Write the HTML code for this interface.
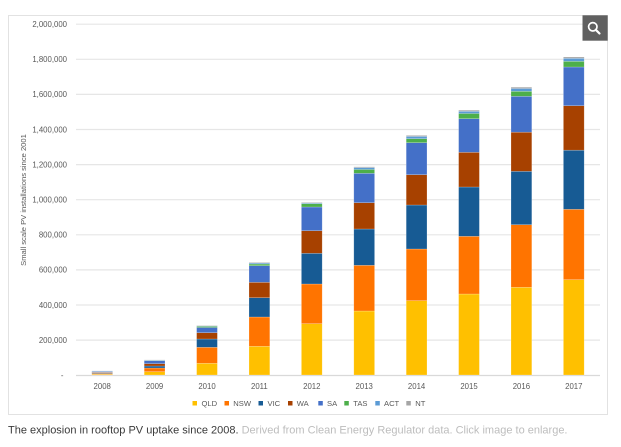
<!DOCTYPE html>
<html><head><meta charset="utf-8">
<style>
html,body{margin:0;padding:0;background:#fff;width:621px;height:447px;overflow:hidden}
svg{display:block}
</style></head>
<body>
<svg width="621" height="447" viewBox="0 0 621 447" xmlns="http://www.w3.org/2000/svg" font-family="'Liberation Sans', sans-serif">
<rect x="8.5" y="15.5" width="599" height="399" fill="#fff" stroke="#e2e2e2" stroke-width="1"/>
<g stroke="#e6e6e6" stroke-width="1.2">
<line x1="76" x2="600" y1="24.2" y2="24.2"/>
<line x1="76" x2="600" y1="59.3" y2="59.3"/>
<line x1="76" x2="600" y1="94.4" y2="94.4"/>
<line x1="76" x2="600" y1="129.5" y2="129.5"/>
<line x1="76" x2="600" y1="164.6" y2="164.6"/>
<line x1="76" x2="600" y1="199.7" y2="199.7"/>
<line x1="76" x2="600" y1="234.8" y2="234.8"/>
<line x1="76" x2="600" y1="269.9" y2="269.9"/>
<line x1="76" x2="600" y1="305" y2="305"/>
<line x1="76" x2="600" y1="340.1" y2="340.1"/>
</g>
<line x1="76" x2="600" y1="375.5" y2="375.5" stroke="#d9d9d9" stroke-width="1.2"/>
<g font-size="7.8" fill="#595959" text-anchor="end">
<text x="67" y="27">2,000,000</text>
<text x="67" y="62.1">1,800,000</text>
<text x="67" y="97.2">1,600,000</text>
<text x="67" y="132.3">1,400,000</text>
<text x="67" y="167.4">1,200,000</text>
<text x="67" y="202.5">1,000,000</text>
<text x="67" y="237.6">800,000</text>
<text x="67" y="272.7">600,000</text>
<text x="67" y="307.8">400,000</text>
<text x="67" y="342.9">200,000</text>
<text x="63.5" y="378">-</text>
</g>
<text transform="translate(26,200) rotate(-90)" font-size="7.6" fill="#595959" text-anchor="middle">Small scale PV installations since 2001</text>
<g id="bars" stroke="#ffffff" stroke-opacity="0.35" stroke-width="0.6"></g>
<g font-size="7.8" fill="#595959" text-anchor="middle">
<text x="102.2" y="389">2008</text>
<text x="154.6" y="389">2009</text>
<text x="207" y="389">2010</text>
<text x="259.4" y="389">2011</text>
<text x="311.8" y="389">2012</text>
<text x="364.2" y="389">2013</text>
<text x="416.6" y="389">2014</text>
<text x="469" y="389">2015</text>
<text x="521.4" y="389">2016</text>
<text x="573.8" y="389">2017</text>
</g>
<g font-size="7.6" fill="#595959">
<rect x="192.5" y="401" width="4.5" height="4.5" fill="#FFC000"/><text x="201.5" y="406">QLD</text>
<rect x="224.5" y="401" width="4.5" height="4.5" fill="#FF7400"/><text x="233.3" y="406">NSW</text>
<rect x="258.5" y="401" width="4.5" height="4.5" fill="#175B94"/><text x="267.5" y="406">VIC</text>
<rect x="288" y="401" width="4.5" height="4.5" fill="#A74100"/><text x="296.7" y="406">WA</text>
<rect x="318.3" y="401" width="4.5" height="4.5" fill="#4470C8"/><text x="327" y="406">SA</text>
<rect x="344.3" y="401" width="4.5" height="4.5" fill="#4DAF4A"/><text x="353.3" y="406">TAS</text>
<rect x="375.3" y="401" width="4.5" height="4.5" fill="#5B9BD5"/><text x="384" y="406">ACT</text>
<rect x="406.3" y="401" width="4.5" height="4.5" fill="#A5A5A5"/><text x="415.3" y="406">NT</text>
</g>
<text x="8" y="433.5" font-size="11" fill="#3a3a3a">The explosion in rooftop PV uptake since 2008. <tspan fill="#bdbdbd">Derived from Clean Energy Regulator data. Click image to enlarge.</tspan></text>
<rect x="582.5" y="15.3" width="25.2" height="25.4" fill="#606060"/>
<circle cx="592.8" cy="26.8" r="4.2" fill="none" stroke="#fff" stroke-width="1.7"/>
<line x1="595.8" y1="29.8" x2="599.5" y2="33.5" stroke="#fff" stroke-width="2.2" stroke-linecap="round"/>
<script>
var colors=["#FFC000","#FF7400","#175B94","#A74100","#4470C8","#4DAF4A","#5B9BD5","#A5A5A5"];
var tops=[
[374.3,373.5,372.8,372.2,371.4,371.2,371.0,370.9],
[371.7,368,366,363.7,360.6,360.3,360.1,359.9],
[363.3,347.3,339,332.7,327.5,326.3,325.9,325.5],
[346.3,317,297.7,282.3,265.7,264,263,262.4],
[323.7,284,253.3,230.7,207,203.7,202.9,202.3],
[311,265.3,229,202.7,173.3,169.5,167.6,166.8],
[300.7,249,205,174.7,142.7,138.7,136.4,135.4],
[294,236.3,187,152.3,118.7,113.5,111.3,110.2],
[287.3,224.7,171.3,132.2,96.3,91.3,88.5,87.2],
[279.7,209.3,150.2,105.7,67,61.3,58.3,57]
];
var g=document.getElementById("bars"),ns="http://www.w3.org/2000/svg";
for(var i=0;i<10;i++){
 var cx=76+52.4*(i+0.5),w=20.8,prev=375;
 for(var j=0;j<8;j++){
  var t=tops[i][j],r=document.createElementNS(ns,"rect");
  r.setAttribute("x",(cx-w/2).toFixed(2));
  r.setAttribute("y",t);
  r.setAttribute("width",w);
  r.setAttribute("height",Math.max(prev-t,0.1).toFixed(2));
  r.setAttribute("fill",colors[j]);
  g.appendChild(r);prev=t;
 }
}
</script>
</svg>
</body></html>
